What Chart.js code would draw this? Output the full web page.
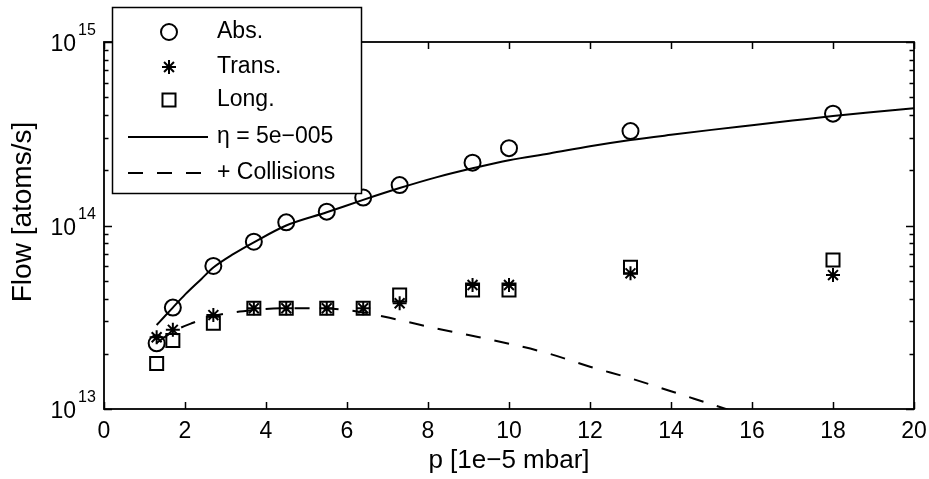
<!DOCTYPE html>
<html>
<head>
<meta charset="utf-8">
<script src="https://cdn.jsdelivr.net/npm/chart.js@4"></script>
<style>
  html, body { margin: 0; padding: 0; background: #fff; }
  #wrap { width: 929px; height: 479px; }
</style>
</head>
<body>
<div id="wrap"><canvas id="flowChart" width="929" height="479"></canvas></div>
<script>
// measured points (p in 1e-5 mbar)
const pData = [1.3, 1.7, 2.7, 3.7, 4.5, 5.5, 6.4, 7.3, 9.1, 10, 13, 18];
const absFlow = [2.28e13, 3.57e13, 6.02e13, 8.16e13, 1.04e14, 1.19e14, 1.42e14, 1.66e14, 2.20e14, 2.64e14, 3.27e14, 4.07e14];
const transFlow = [2.46e13, 2.70e13, 3.25e13, 3.54e13, 3.54e13, 3.54e13, 3.54e13, 3.77e13, 4.74e13, 4.74e13, 5.49e13, 5.37e13];
const longFlow = [1.77e13, 2.36e13, 2.93e13, 3.54e13, 3.54e13, 3.54e13, 3.54e13, 4.18e13, 4.45e13, 4.45e13, 5.92e13, 6.49e13];

// model curves
const fitP = [1.3, 1.5, 1.7, 2, 2.4, 2.7, 3.2, 3.7, 4.5, 5.5, 6.4, 7.3, 8.2, 9.1, 10, 11, 12, 13, 14, 15, 16, 17, 18, 19, 20];
const fitFlow = [2.87e13, 3.2e13, 3.57e13, 4.2e13, 5.1e13, 5.9e13, 7.0e13, 8.1e13, 1.0e14, 1.18e14, 1.38e14, 1.6e14, 1.83e14, 2.05e14, 2.27e14, 2.47e14, 2.7e14, 2.92e14, 3.12e14, 3.32e14, 3.52e14, 3.73e14, 3.95e14, 4.15e14, 4.35e14];
const collP = [1.3, 1.7, 2.2, 2.7, 3.7, 4.5, 5.5, 6.4, 7.3, 8.2, 9, 10, 11, 12, 13, 14, 15, 16];
const collFlow = [2.29e13, 2.64e13, 2.95e13, 3.21e13, 3.46e13, 3.54e13, 3.53e13, 3.36e13, 3.05e13, 2.75e13, 2.53e13, 2.27e13, 2.0e13, 1.7e13, 1.47e13, 1.25e13, 1.06e13, 0.9e13];

const seriesLabels = ['Abs.', 'Trans.', 'Long.', 'η = 5e−005', '+ Collisions'];
const xTicks = [0, 2, 4, 6, 8, 10, 12, 14, 16, 18, 20];
const yDecades = [13, 14, 15];

const FONT = "'Liberation Sans', Arial, Helvetica, sans-serif";

const toPts = (xs, ys) => xs.map((x, i) => ({ x, y: ys[i] }));

const markerSet = (label, data, style, radius) => ({
  label, data,
  showLine: false,
  pointStyle: style,
  pointRadius: radius,
  pointHoverRadius: radius,
  pointBorderWidth: 2,
  pointBorderColor: '#000',
  pointBackgroundColor: 'rgba(0,0,0,0)',
  borderColor: '#000',
});

const lineSet = (label, data, dash) => ({
  label, data,
  showLine: true,
  pointRadius: 0,
  borderColor: '#000',
  borderWidth: 2,
  borderDash: dash,
  cubicInterpolationMode: 'monotone',
  fill: false,
});

// ticks, box, superscript labels, legend
const matlabAxes = {
  id: 'matlabAxes',
  afterDatasetsDraw(chart) {
    const { ctx, chartArea: a, scales: { x, y } } = chart;
    ctx.save();
    ctx.strokeStyle = '#000';
    ctx.fillStyle = '#000';
    ctx.lineWidth = 1.5;

    // tick marks inside the box
    ctx.beginPath();
    xTicks.forEach(v => {
      const px = Math.round(x.getPixelForValue(v)) + 0.5;
      ctx.moveTo(px, a.bottom); ctx.lineTo(px, a.bottom - 7);
      ctx.moveTo(px, a.top); ctx.lineTo(px, a.top + 7);
    });
    yDecades.forEach((d, i) => {
      const mult = i < yDecades.length - 1 ? [1, 2, 3, 4, 5, 6, 7, 8, 9] : [1];
      mult.forEach(m => {
        const py = Math.round(y.getPixelForValue(m * Math.pow(10, d))) + 0.5;
        const len = m === 1 ? 8 : 4.5;
        ctx.moveTo(a.left, py); ctx.lineTo(a.left + len, py);
        ctx.moveTo(a.right, py); ctx.lineTo(a.right - len, py);
      });
    });
    ctx.stroke();

    // box
    ctx.lineWidth = 1.8;
    ctx.strokeRect(a.left, a.top, a.right - a.left, a.bottom - a.top);

    // y labels 10^n
    yDecades.forEach(d => {
      const py = y.getPixelForValue(Math.pow(10, d));
      ctx.font = '23px ' + FONT;
      ctx.textAlign = 'right';
      ctx.textBaseline = 'middle';
      ctx.fillText('10', 76, py + 3);
      ctx.font = '16px ' + FONT;
      ctx.textAlign = 'left';
      ctx.fillText(String(d), 78, py - 11);
    });

    // y title
    ctx.save();
    ctx.translate(23, 212);
    ctx.rotate(-Math.PI / 2);
    ctx.font = '28px ' + FONT;
    ctx.textAlign = 'center';
    ctx.textBaseline = 'middle';
    ctx.fillText('Flow [atoms/s]', 0, 0);
    ctx.restore();

    // legend
    const box = { l: 112, t: 7, r: 361, b: 193 };
    const rows = [32, 67, 100, 137, 173];
    ctx.fillStyle = '#fff';
    ctx.fillRect(box.l, box.t, box.r - box.l, box.b - box.t);
    ctx.lineWidth = 1.5;
    ctx.strokeRect(box.l + 0.5, box.t + 0.5, box.r - box.l, box.b - box.t);
    chart.data.datasets.forEach((ds, i) => {
      const ry = rows[i];
      if (ds.showLine) {
        ctx.save();
        ctx.lineWidth = ds.borderWidth;
        ctx.setLineDash(ds.borderDash || []);
        ctx.beginPath();
        ctx.moveTo(128, ry); ctx.lineTo(208, ry);
        ctx.stroke();
        ctx.restore();
      } else {
        ctx.save();
        ctx.lineWidth = ds.pointBorderWidth;
        ctx.strokeStyle = '#000';
        ctx.fillStyle = 'rgba(0,0,0,0)';
        Chart.helpers.drawPoint(ctx, { pointStyle: ds.pointStyle, radius: ds.pointRadius, borderWidth: 2, rotation: 0 }, 169, ry);
        ctx.restore();
      }
      ctx.fillStyle = '#000';
      ctx.font = '23px ' + FONT;
      ctx.textAlign = 'left';
      ctx.textBaseline = 'middle';
      ctx.fillText(ds.label, 217, ry);
    });
    ctx.restore();
  }
};

new Chart(document.getElementById('flowChart'), {
  type: 'scatter',
  data: {
    datasets: [
      markerSet(seriesLabels[0], toPts(pData, absFlow), 'circle', 8),
      markerSet(seriesLabels[1], toPts(pData, transFlow), 'star', 7),
      markerSet(seriesLabels[2], toPts(pData, longFlow), 'rect', 9.2),
      lineSet(seriesLabels[3], toPts(fitP, fitFlow), []),
      lineSet(seriesLabels[4], toPts(collP, collFlow), [15, 14]),
    ]
  },
  options: {
    responsive: false,
    animation: false,
    layout: { padding: { top: 42, right: 15, left: 0, bottom: 0 } },
    plugins: {
      legend: { display: false },
      tooltip: { enabled: false },
    },
    scales: {
      x: {
        type: 'linear',
        min: 0, max: 20,
        afterBuildTicks: scale => { scale.ticks = xTicks.map(v => ({ value: v })); },
        afterFit: scale => { scale.height = 70; scale.paddingLeft = 0; scale.paddingRight = 0; },
        grid: { display: false, drawTicks: false },
        border: { display: false },
        ticks: { color: '#000', font: { family: FONT, size: 23 }, padding: 9, maxRotation: 0 },
        title: {
          display: true, text: 'p [1e−5 mbar]', color: '#000',
          font: { family: FONT, size: 26 }, padding: { top: 0, bottom: 3 }
        }
      },
      y: {
        type: 'logarithmic',
        min: 1e13, max: 1e15,
        afterFit: scale => { scale.width = 104; scale.paddingTop = 0; scale.paddingBottom = 0; },
        grid: { display: false, drawTicks: false },
        border: { display: false },
        ticks: { display: false },
      }
    }
  },
  plugins: [matlabAxes]
});
</script>
</body>
</html>
